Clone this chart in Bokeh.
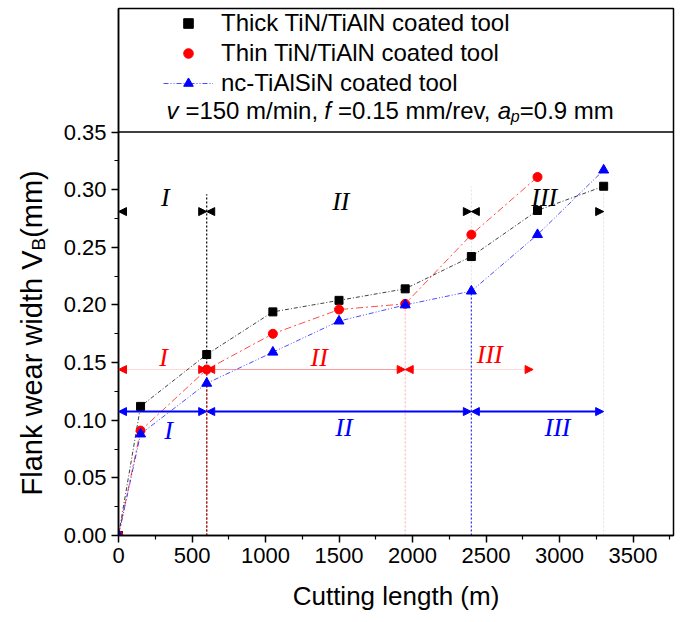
import math
from bokeh.plotting import figure
from bokeh.layouts import row
from bokeh.models import (Range1d, FixedTicker, Span, Arrow, NormalHead, Legend,
                          LegendItem, Label, NumeralTickFormatter)
from bokeh.core.properties import value
from bokeh.embed import file_html
from bokeh.resources import INLINE

# ---------------- data ----------------
cutting_length = [0, 150, 600, 1050, 1500, 1950, 2400, 2850, 3300]
thick_vb = [0, 0.112, 0.157, 0.194, 0.204, 0.214, 0.242, 0.282, 0.303]
thin_length = [0, 150, 600, 1050, 1500, 1950, 2400, 2850]
thin_vb = [0, 0.091, 0.144, 0.175, 0.196, 0.201, 0.261, 0.311]
nc_vb = [0, 0.088, 0.132, 0.159, 0.186, 0.200, 0.212, 0.261, 0.317]

# wear-stage boundaries (cutting length, m) for each tool
thick_stages = [0, 600, 2400, 3300]
thin_stages = [0, 600, 1950, 2820]
nc_stages = [0, 600, 2400, 3300]
stage_names = ["I", "II", "III"]

x_ticks = [0, 500, 1000, 1500, 2000, 2500, 3000, 3500]
x_minor = [250, 750, 1250, 1750, 2250, 2750, 3250, 3750]
y_ticks = [0.0, 0.05, 0.10, 0.15, 0.20, 0.25, 0.30, 0.35]
y_minor = [0.025, 0.075, 0.125, 0.175, 0.225, 0.275, 0.325]

legend_labels = ["Thick TiN/TiAlN coated tool", "Thin TiN/TiAlN coated tool",
                 "nc-TiAlSiN coated tool"]

# ---------------- layout ----------------
H = 620
LW = 60                      # width of the strip holding the y title
X_END, Y_END = 3775, 0.4572
FL, FT, FW, FH = 117, 8, 556, 527  # plot frame in page pixels
FB = FT + FH


def px_x(px):
    return (px - FL) / FW * X_END


def px_y(py):
    return (FB - py) / FH * Y_END


p = figure(width=FL - LW + FW + 8, height=H, x_range=Range1d(0, X_END),
           y_range=Range1d(0, Y_END),
           output_backend="svg", toolbar_location=None,
           min_border_left=FL - LW, min_border_right=8, min_border_top=FT,
           min_border_bottom=H - FB)
p.xgrid.visible = False
p.ygrid.visible = False
p.outline_line_color = "black"
p.outline_line_width = 1.5
p.outline_line_alpha = 1.0
p.background_fill_color = "white"
p.border_fill_color = "white"

for ax in (p.xaxis[0], p.yaxis[0]):
    ax.axis_line_width = 1.5
    ax.major_tick_line_width = 1.5
    ax.minor_tick_line_width = 1.2
    ax.major_tick_in = 0
    ax.major_tick_out = 7
    ax.minor_tick_in = 0
    ax.minor_tick_out = 4
    ax.major_label_text_font = "Liberation Sans"
    ax.major_label_text_font_size = "22px"
    ax.major_label_text_color = "black"
    ax.major_label_standoff = 5

p.xaxis.ticker = FixedTicker(ticks=x_ticks, minor_ticks=x_minor)
p.yaxis.ticker = FixedTicker(ticks=y_ticks, minor_ticks=y_minor)
p.yaxis.formatter = NumeralTickFormatter(format="0.00")
p.xaxis.formatter = NumeralTickFormatter(format="0")
p.xaxis.axis_label = "Cutting length (m)"
p.xaxis.axis_label_text_font = "Liberation Sans"
p.xaxis.axis_label_text_font_size = "26px"
p.xaxis.axis_label_text_font_style = "normal"
p.xaxis.axis_label_text_color = "black"
p.xaxis.axis_label_standoff = 15

# separator between plot and legend box
p.add_layout(Span(location=0.35, dimension="width", line_color="black", line_width=1.5))

# ---------------- stage guide lines ----------------
p.segment(x0=[thick_stages[1]], y0=[0], x1=[thick_stages[1]], y1=[0.296],
          line_color="black", line_dash="2 2", line_width=1.2)
p.segment(x0=thick_stages[2:], y0=[0, 0], x1=thick_stages[2:], y1=[0.303, 0.297],
          line_color="black", line_dash="2 2", line_width=1, line_alpha=0.12)
p.segment(x0=[thin_stages[1]], y0=[0], x1=[thin_stages[1]], y1=[0.144],
          line_color="red", line_dash="2 2", line_width=1.2, line_alpha=0.8)
p.segment(x0=[thin_stages[2]], y0=[0], x1=[thin_stages[2]], y1=[0.2],
          line_color="red", line_dash="2 2", line_width=1, line_alpha=0.35)
p.segment(x0=[nc_stages[2]], y0=[0], x1=[nc_stages[2]], y1=[0.212],
          line_color="blue", line_dash="2 2", line_width=1.2, line_alpha=0.8)

# ---------------- series ----------------
l_thick = p.line(cutting_length, thick_vb, line_color="black", line_dash="4 2 1 2",
                 line_width=1, line_alpha=0.75)
s_thick = p.scatter(cutting_length, thick_vb, marker="square", size=8, color="black")
l_thin = p.line(thin_length, thin_vb, line_color="red", line_dash="7 3 2 3",
                line_width=1, line_alpha=0.7)
s_thin = p.scatter(thin_length, thin_vb, marker="circle", size=9, color="red")
l_nc = p.line(cutting_length, nc_vb, line_color="blue", line_dash="5 2 1 2 1 2",
              line_width=1, line_alpha=0.7)
s_nc = p.scatter(cutting_length, nc_vb, marker="triangle", size=10, color="blue")


# ---------------- stage arrows ----------------
def stage_arrows(stages, level, color, shaft_alpha, shaft_width):
    for i in range(len(stages) - 1):
        p.add_layout(Arrow(
            x_start=stages[i], y_start=level, x_end=stages[i + 1], y_end=level,
            start=NormalHead(size=8, fill_color=color, line_color=color, line_width=1),
            end=NormalHead(size=8, fill_color=color, line_color=color, line_width=1),
            line_color=color, line_alpha=shaft_alpha[i], line_width=shaft_width))


stage_arrows(thick_stages, 0.281, "black", [0, 0, 0], 1)
stage_arrows(thin_stages, 0.144, "red", [0.15, 0.4, 0.15], 1.2)
stage_arrows(nc_stages, 0.1075, "blue", [1, 1, 1], 2)

label_font = dict(text_font=value("Liberation Serif"), text_font_style="italic",
                  text_font_size=value("26px"), text_align="center",
                  text_baseline="middle")
p.text(x=[318, 1512, 2896], y=[0.293, 0.290, 0.293], text=stage_names,
       text_color="black", **label_font)
p.text(x=[306, 1365, 2525], y=[0.154, 0.154, 0.157], text=stage_names,
       text_color="red", **label_font)
p.text(x=[340, 1534, 2986], y=[0.0915, 0.094, 0.094], text=stage_names,
       text_color="blue", **label_font)

# ---------------- legend ----------------
legend = Legend(items=[LegendItem(label=legend_labels[0], renderers=[s_thick]),
                       LegendItem(label=legend_labels[1], renderers=[s_thin]),
                       LegendItem(label=legend_labels[2], renderers=[l_nc, s_nc])],
                location=(45, 438), orientation="vertical",
                glyph_width=50, glyph_height=24, label_height=24, spacing=2,
                label_standoff=8, padding=0, margin=0,
                border_line_alpha=0, background_fill_alpha=0,
                label_text_font="Liberation Sans", label_text_font_size="24px",
                label_text_color="black")
p.add_layout(legend)

cond_y = px_y(110)
sub_y = px_y(116)
pieces = [
    ("v", 165, cond_y, "italic", "24px"),
    ("=150 m/min,", 184, cond_y, "normal", "24px"),
    ("f", 323, cond_y, "italic", "24px"),
    ("=0.15 mm/rev,", 337, cond_y, "normal", "24px"),
    ("a", 497, cond_y, "italic", "24px"),
    ("p", 510, sub_y, "italic", "16px"),
    ("=0.9 mm", 519, cond_y, "normal", "24px"),
]
for txt, px, yy, style, size in pieces:
    p.add_layout(Label(x=px_x(px), y=yy, text=txt, text_font="Liberation Sans",
                       text_font_style=style, text_font_size=size,
                       text_align="left", text_baseline="alphabetic",
                       text_color="black"))

# ---------------- y axis title with subscript (left strip) ----------------
# the strip's frame is aligned with the main frame; its y range is in page pixels
q = figure(width=LW, height=H, x_range=Range1d(0, LW), y_range=Range1d(H - FB, H - FT),
           x_axis_type=None, y_axis_type=None, output_backend="svg",
           toolbar_location=None, min_border_left=0, min_border_right=0,
           min_border_top=FT, min_border_bottom=H - FB)
q.xgrid.visible = False
q.ygrid.visible = False
q.outline_line_color = None
q.background_fill_color = "white"
q.border_fill_color = "white"

ylab_font = 29
start_py = 495
main_len = 8.447 * ylab_font
sub_len = 0.667 * 19
ytitle_parts = ["Flank wear width V", "B", "(mm)"]
q.text(x=[31], y=[H - start_py], text=[ytitle_parts[0]], angle=math.pi / 2,
       text_font=value("Liberation Sans"), text_font_size=value(f"{ylab_font}px"),
       text_align="left", text_baseline="middle", text_color="black")
q.text(x=[38], y=[H - start_py + main_len], text=[ytitle_parts[1]], angle=math.pi / 2,
       text_font=value("Liberation Sans"), text_font_size=value("19px"),
       text_align="left", text_baseline="middle", text_color="black")
q.text(x=[31], y=[H - start_py + main_len + sub_len], text=[ytitle_parts[2]],
       angle=math.pi / 2, text_font=value("Liberation Sans"),
       text_font_size=value(f"{ylab_font}px"), text_align="left",
       text_baseline="middle", text_color="black")

layout = row(q, p, spacing=0)
open("out.html", "w").write(file_html(layout, INLINE))
